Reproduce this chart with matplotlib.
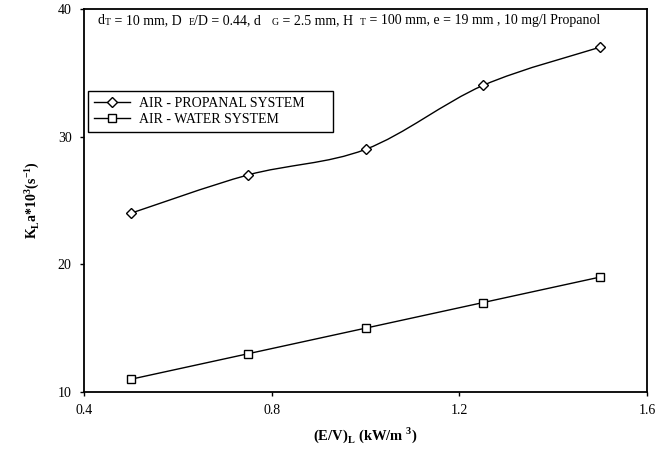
import matplotlib
matplotlib.use('Agg')
import matplotlib.pyplot as plt
from matplotlib.path import Path
from matplotlib.patches import PathPatch
from matplotlib.lines import Line2D
import numpy as np

plt.rcParams['font.family'] = 'Liberation Serif'
plt.rcParams['mathtext.fontset'] = 'custom'
plt.rcParams['mathtext.rm'] = 'Liberation Serif'
plt.rcParams['mathtext.bf'] = 'Liberation Serif:bold'

# data
ev = [0.5, 0.75, 1.0, 1.25, 1.5]
propanal = [24, 27, 29, 34, 37]
water = [11, 13, 15, 17, 19]
xticks = [0.4, 0.8, 1.2, 1.6]
yticks = [10, 20, 30, 40]

fig = plt.figure(figsize=(6.57, 4.65), dpi=100)
ax = fig.add_axes([0.128, 0.157, 0.857, 0.824])

# smoothed line (excel-like bezier through the points)
px = np.array(ev, dtype=float)
py = np.array(propanal, dtype=float)
verts = [(px[0], py[0])]
codes = [Path.MOVETO]
n = len(px)
for i in range(n - 1):
    p0 = np.array([px[max(i-1, 0)], py[max(i-1, 0)]])
    p1 = np.array([px[i], py[i]])
    p2 = np.array([px[i+1], py[i+1]])
    p3 = np.array([px[min(i+2, n-1)], py[min(i+2, n-1)]])
    c1 = p1 + (p2 - p0) / 6
    c2 = p2 - (p3 - p1) / 6
    verts += [tuple(c1), tuple(c2), tuple(p2)]
    codes += [Path.CURVE4] * 3
ax.add_patch(PathPatch(Path(verts, codes), facecolor='none', edgecolor='k', lw=1.0, zorder=2))
ax.plot(ev, propanal, ls='none', marker='D', ms=5, mfc='white', mec='k', mew=1.0, zorder=3)

ax.plot(ev, water, 'k-', lw=1.0, marker='s', ms=6, mfc='white', mec='k', mew=1.0, zorder=3)

ax.set_xlim(0.4, 1.6)
ax.set_ylim(10, 40)
ax.set_xticks(xticks)
ax.set_xticklabels(['%.1f' % v for v in xticks])
ax.set_yticks(yticks)
ax.tick_params(direction='out', length=3, width=1, labelsize=10, pad=6)
for s in ax.spines.values():
    s.set_linewidth(1.3)

ax.set_xlabel(r'(E/V)$_\mathbf{L}$ (kW/m$^\mathbf{\ 3}$)', fontsize=10.5, fontweight='bold', labelpad=6)
ax.set_ylabel(r'K$_\mathbf{L}$a*10$^\mathbf{3}$(s$^\mathbf{-1}$)', fontsize=10, fontweight='bold', labelpad=12)

# conditions line with small caps subscripts
parts = [('d', 10), ('T', 7), (' = 10 mm, D  ', 10), ('E', 7), ('/D = 0.44, d   ', 10), ('G', 7),
         (' = 2.5 mm, H  ', 10), ('T', 7), (' = 100 mm, e = 19 mm , 10 mg/l Propanol', 10)]
prev = ax.text(98 / 657, 1 - 24 / 465, parts[0][0], fontsize=parts[0][1],
               transform=fig.transFigure, va='baseline')
for s, fs in parts[1:]:
    prev = ax.annotate(s, xy=(1, 0), xycoords=prev, fontsize=fs, va='bottom', ha='left')

handles = [Line2D([], [], color='k', lw=1.0, marker='D', ms=5, mfc='white', mew=1.0),
           Line2D([], [], color='k', lw=1.0, marker='s', ms=6, mfc='white', mew=1.0)]
leg = ax.legend(handles, ['AIR - PROPANAL SYSTEM', 'AIR - WATER SYSTEM'], loc='upper left',
                bbox_to_anchor=(88 / 657, 1 - 91 / 465, (333 - 88) / 657, 0.0001),
                bbox_transform=fig.transFigure, mode='expand',
                fontsize=10, fancybox=False, framealpha=1, edgecolor='k', borderaxespad=0,
                handlelength=2.6, handletextpad=0.6, borderpad=0.45, labelspacing=0.2)
leg.get_frame().set_linewidth(1.0)

fig.savefig('out.png', dpi=100)
